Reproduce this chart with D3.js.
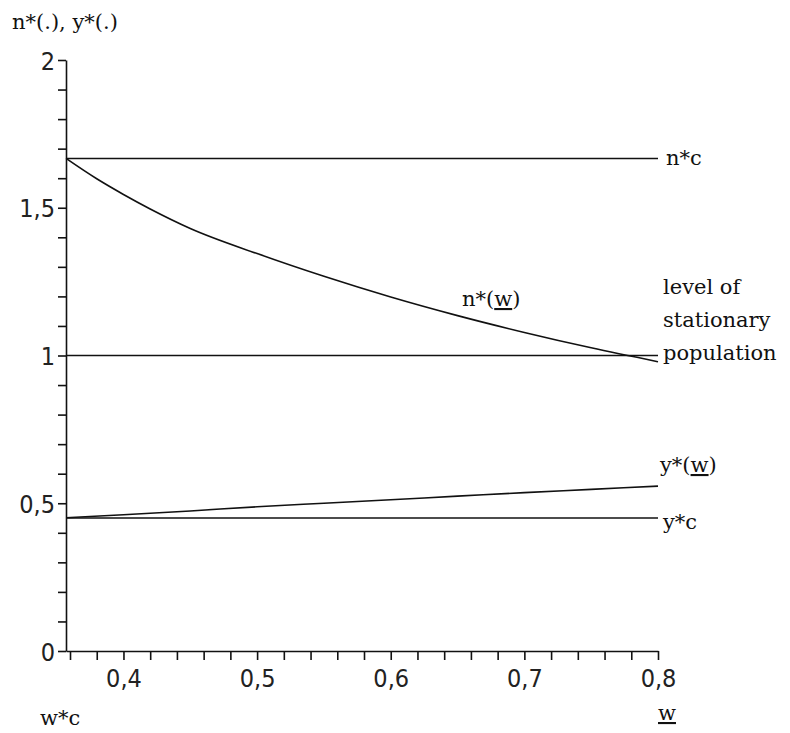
<!DOCTYPE html>
<html>
<head>
<meta charset="utf-8">
<script src="https://cdn.jsdelivr.net/npm/d3@7"></script>
<style>
  body { margin: 0; background: #fff; }
  .num { font-family: "DejaVu Sans Condensed", "Liberation Sans Narrow", "DejaVu Sans", sans-serif; font-stretch: condensed; font-size: 25px; fill: #222; }
  .lbl { font-family: "DejaVu Serif", serif; font-size: 21px; fill: #111; }
</style>
</head>
<body>
<svg></svg>
<script>
var width = 790, height = 733;

// curve n*(w)
var nW = [0.357, 0.38, 0.40, 0.42, 0.45, 0.50, 0.55, 0.60, 0.65, 0.70, 0.75, 0.80];
var nVal = [1.667, 1.598, 1.545, 1.496, 1.43, 1.345, 1.268, 1.198, 1.135, 1.078, 1.026, 0.979];
// curve y*(w)
var yW = [0.357, 0.40, 0.45, 0.50, 0.55, 0.60, 0.65, 0.70, 0.75, 0.80];
var yVal = [0.451, 0.461, 0.474, 0.488, 0.500, 0.512, 0.524, 0.536, 0.547, 0.558];
// horizontal levels
var levels = [5 / 3, 1, 0.45];

var xTicks = d3.range(0.36, 0.801, 0.02);
var xLabels = [0.4, 0.5, 0.6, 0.7, 0.8];
var yTicks = d3.range(0, 2.001, 0.1);
var yLabels = [0, 0.5, 1, 1.5, 2];

var fmt = d3.formatLocale({decimal: ",", thousands: ".", grouping: [3], currency: ["", ""]}).format("~g");

var x = d3.scaleLinear().domain([0.357, 0.8]).range([66, 658]);
var y = d3.scaleLinear().domain([0, 2]).range([651, 60]);

var svg = d3.select('svg')
    .attr('width', width)
    .attr('height', height);

// axes
var yAxis = d3.axisLeft(y)
    .tickValues(yTicks)
    .tickSize(8)
    .tickSizeOuter(0)
    .tickFormat(function(d) {
      return yLabels.some(v => Math.abs(v - d) < 1e-6) ? fmt(+d.toFixed(2)) : '';
    });

var xAxis = d3.axisBottom(x)
    .tickValues(xTicks)
    .tickSize(9)
    .tickSizeOuter(0)
    .tickFormat(function(d) {
      return xLabels.some(v => Math.abs(v - d) < 1e-6) ? fmt(+d.toFixed(2)) : '';
    });

var gy = svg.append('g')
    .attr('transform', 'translate(' + x.range()[0] + ',0)')
    .call(yAxis);
gy.selectAll('text').attr('class', 'num').attr('x', -11).attr('dy', '0.36em');

var gx = svg.append('g')
    .attr('transform', 'translate(0,' + y(0) + ')')
    .call(xAxis);
gx.selectAll('text').attr('class', 'num').attr('y', 18);

svg.selectAll('.domain, .tick line')
    .attr('stroke', '#111')
    .attr('stroke-width', 1.6);

// horizontal lines
svg.selectAll('.level')
    .data(levels)
    .enter()
    .append('line')
      .classed('level', true)
      .attr('x1', x(0.357))
      .attr('x2', x(0.8))
      .attr('y1', d => y(d))
      .attr('y2', d => y(d))
      .attr('stroke', '#111')
      .attr('stroke-width', 1.6);

var line = d3.line()
    .x(d => x(d[0]))
    .y(d => y(d[1]))
    .curve(d3.curveMonotoneX);

svg.append('path')
    .datum(d3.zip(nW, nVal))
    .attr('fill', 'none')
    .attr('stroke', '#111')
    .attr('stroke-width', 1.6)
    .attr('d', line);

svg.append('path')
    .datum(d3.zip(yW, yVal))
    .attr('fill', 'none')
    .attr('stroke', '#111')
    .attr('stroke-width', 1.6)
    .attr('d', line);

// labels
function label(px, py, parts) {
  var t = svg.append('text').attr('class', 'lbl').attr('x', px).attr('y', py);
  parts.forEach(function(p) {
    var s = t.append('tspan').text(p[0]);
    if (p[1]) s.style('text-decoration', 'underline');
  });
  return t;
}

label(12, 29, [['n*(.), y*(.)']]);
label(666, 165, [['n*c']]);
label(663, 294, [['level of']]);
label(663, 327, [['stationary']]);
label(663, 360, [['population']]);
label(462, 306, [['n*('], ['w', true], [')']]);
label(660, 472, [['y*('], ['w', true], [')']]);
label(663, 529, [['y*c']]);
label(40, 725, [['w*c']]);
label(658, 720, [['w', true]]);
</script>
</body>
</html>
